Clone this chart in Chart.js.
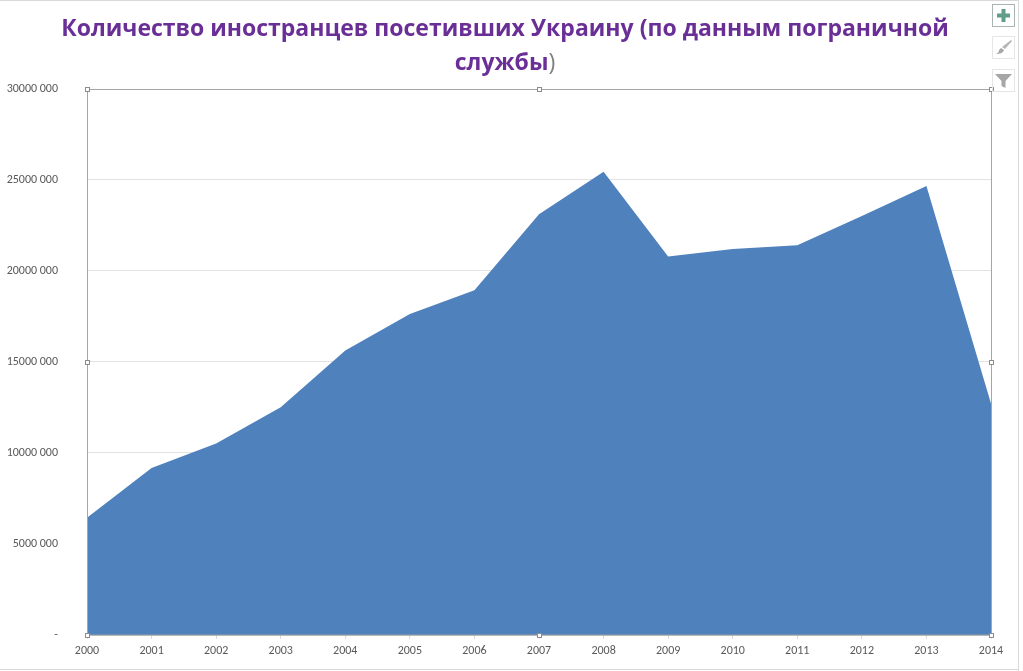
<!DOCTYPE html>
<html>
<head>
<meta charset="utf-8">
<script src="https://cdn.jsdelivr.net/npm/chart.js@4"></script>
<style>
  html, body { margin: 0; padding: 0; background: #fff; overflow: hidden; }
  #wrap { position: relative; width: 1023px; height: 671px; }
  #title {
    position: absolute; left: 0; top: 10px; width: 1010px; text-align: center;
    font: bold 23px/34px "Open Sans", sans-serif; color: #6a2f96;
  }
  #title span { color: #7f7f7f; font-weight: normal; }
  .edge { position: absolute; background: #d9d9d9; }
  .btn { position: absolute; left: 992px; width: 23px; height: 23px; box-sizing: border-box; border: 1px solid #e6e6e6; }
  .btn svg { display: block; width: 21px; height: 21px; }
</style>
</head>
<body>
<div id="wrap">
  <canvas id="chart" width="1023" height="671"></canvas>
  <div id="title">Количество иностранцев посетивших Украину (по данным пограничной<br>службы<span>)</span></div>
  <div class="edge" style="left:0;top:0;width:1018px;height:1px"></div>
  <div class="edge" style="left:1018px;top:0;width:1px;height:671px"></div>
  <div class="edge" style="left:0;top:669px;width:1019px;height:1px"></div>
  <div class="btn" style="top:4px;border-color:#a9b5b0">
    <svg viewBox="0 0 21 21"><path d="M8.5 4h4v4.500h4.500v4h-4.500v4.500h-4v-4.500h-4.500v-4h4.500z" fill="#5f9e8a"/></svg>
  </div>
  <div class="btn" style="top:36px">
    <svg viewBox="0 0 21 21"><path d="M18 3l1 1-7 8-3-2z" fill="#b5b5b5"/><path d="M8 11l3 2c-1 3-4 4-8 4 2-1 3-2 3-4z" fill="#a8a8a8"/></svg>
  </div>
  <div class="btn" style="top:69px">
    <svg viewBox="0 0 21 21"><path d="M2 4h17l-6.500 7v7l-4-2v-5z" fill="#a6a6a6"/></svg>
  </div>
</div>
<script>
// foreigners visiting Ukraine, border service data
const years = ["2000","2001","2002","2003","2004","2005","2006","2007","2008","2009","2010","2011","2012","2013","2014"];
const visitors = [6431000, 9174000, 10517000, 12514000, 15629000, 17631000, 18936000, 23122000, 25449000, 20798000, 21203000, 21415000, 23013000, 24671000, 12712000];
const yTickLabels = ["-", "5000 000", "10000 000", "15000 000", "20000 000", "25000 000", "30000 000"];

// excel style selection frame round the plot area
const selectionFrame = {
    id: "selectionFrame",
    afterDatasetsDraw(chart) {
        const ctx = chart.ctx;
        const a = chart.chartArea;
        ctx.save();
        ctx.strokeStyle = "#a6a6a6";
        ctx.lineWidth = 1;
        ctx.strokeRect(a.left + 0.5, a.top + 0.5, a.right - a.left, a.bottom - a.top);
        ctx.fillStyle = "#fff";
        ctx.strokeStyle = "#8c8c8c";
        let midX = (a.left + a.right) / 2;
        let midY = (a.top + a.bottom) / 2;
        let handles = [[a.left, a.top], [midX, a.top], [a.right, a.top], [a.left, midY], [a.right, midY], [a.left, a.bottom], [midX, a.bottom], [a.right, a.bottom]];
        for (let i = 0; i < handles.length; i++) {
            let hx = Math.round(handles[i][0]);
            let hy = Math.round(handles[i][1]);
            ctx.fillRect(hx - 2, hy - 2, 5, 5);
            ctx.strokeRect(hx - 2 + 0.5, hy - 2 + 0.5, 4, 4);
        }
        ctx.restore();
    }
};

new Chart("chart", {
    type: "line",
    data: {
        labels: years,
        datasets: [{
            data: visitors,
            fill: "origin",
            backgroundColor: "#4f81bd",
            borderWidth: 0,
            pointRadius: 0,
            tension: 0
        }]
    },
    options: {
        responsive: false,
        animation: false,
        layout: { padding: { top: 89, right: 32, bottom: 0, left: 0 } },
        plugins: { legend: { display: false }, title: { display: false }, tooltip: { enabled: false } },
        scales: {
            x: {
                offset: false,
                border: { color: "#7f93ad" },
                grid: { drawOnChartArea: false, color: "#d9d9d9", tickLength: 4 },
                ticks: { color: "#595959", font: { family: "Carlito, Lato, sans-serif", size: 12 }, maxRotation: 0, autoSkip: false, padding: 5 },
                afterFit(scale) { scale.height = 33; }
            },
            y: {
                min: 0,
                max: 30000000,
                border: { display: false },
                grid: { color: "#e2e2e2", drawTicks: false },
                ticks: {
                    stepSize: 5000000,
                    color: "#595959",
                    font: { family: "Carlito, Lato, sans-serif", size: 12 },
                    padding: 29,
                    callback: (value, index) => yTickLabels[index]
                },
                afterFit(scale) { scale.width = 87; }
            }
        }
    },
    plugins: [selectionFrame]
});
</script>
</body>
</html>
